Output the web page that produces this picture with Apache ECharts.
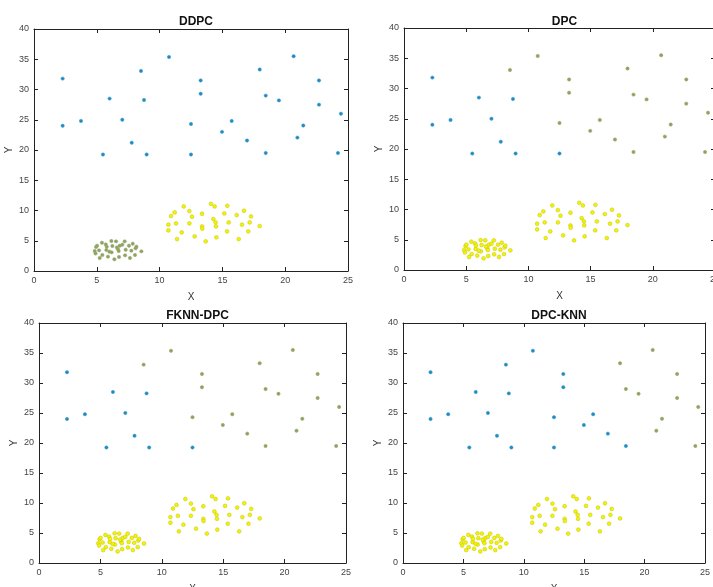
<!DOCTYPE html>
<html>
<head>
<meta charset="utf-8">
<title>DDPC / DPC / FKNN-DPC / DPC-KNN</title>
<script src="https://cdn.jsdelivr.net/npm/echarts@6/dist/echarts.min.js"></script>
<style>
  html, body { margin: 0; background: #fff; }
  #chart { width: 713px; height: 587px; }
</style>
</head>
<body>
<div id="chart"></div>
<script>
// 稀疏点（上方那一片）
const sparsePts = [
  [2.28, 31.8], [2.28, 24.0], [3.74, 24.8], [5.49, 19.25], [6.02, 28.5],
  [7.03, 25.0], [7.78, 21.2], [8.52, 33.06], [8.76, 28.27], [8.97, 19.25],
  [10.75, 35.37], [12.5, 24.3], [12.5, 19.25], [13.27, 31.5], [13.27, 29.3],
  [14.97, 23.0], [15.74, 24.8], [16.96, 21.56], [17.97, 33.3], [18.45, 28.99],
  [18.45, 19.5], [19.5, 28.2], [20.67, 35.5], [20.97, 22.05], [21.44, 24.04],
  [22.69, 31.5], [22.69, 27.5], [24.2, 19.5], [24.44, 26.0]
]

// 左下的小簇
const clusterLow = [
  [4.83, 3.30], [4.94, 3.96], [5.02, 4.18], [5.18, 3.41], [5.23, 2.15],
  [5.41, 4.68], [5.44, 2.64], [5.71, 4.40], [5.76, 3.47], [5.79, 4.02],
  [5.89, 2.37], [6.16, 4.95], [6.18, 3.08], [6.24, 4.13], [6.40, 1.93],
  [6.53, 4.90], [6.69, 3.58], [6.74, 3.30], [6.77, 2.31], [6.82, 4.18],
  [7.03, 4.35], [7.22, 4.90], [7.25, 2.59], [7.30, 3.52], [7.56, 4.18],
  [7.64, 2.15], [7.75, 3.36], [7.86, 4.51], [8.04, 2.64], [8.09, 3.74],
  [8.15, 4.02], [8.55, 3.25], [4.90, 2.90], [6.00, 3.20], [6.60, 3.90]
]

// 中间的大簇
const clusterMid = [
  [10.70, 7.65], [10.70, 6.71], [10.91, 9.08], [11.20, 9.68], [11.31, 7.87],
  [11.39, 5.28], [11.76, 6.38], [11.92, 10.67], [12.37, 9.90], [12.37, 7.87],
  [12.58, 8.97], [12.79, 5.72], [13.38, 9.46], [13.38, 7.37], [13.40, 6.99],
  [13.67, 4.90], [14.09, 11.11], [14.28, 8.58], [14.38, 10.67], [14.46, 8.03],
  [14.49, 7.37], [14.52, 5.56], [15.15, 9.52], [15.37, 6.55], [15.39, 10.78],
  [15.50, 8.03], [16.14, 9.24], [16.30, 5.28], [16.56, 7.65], [16.72, 9.96],
  [17.06, 6.55], [17.17, 8.03], [17.28, 9.02], [17.97, 7.43]
]

const titles = ['DDPC', 'DPC', 'FKNN-DPC', 'DPC-KNN']

// 稀疏点的类别：0 蓝色，1 绿色
const labelsDDPC = [0,0,0,0,0, 0,0,0,0,0, 0,0,0,0,0, 0,0,0,0,0, 0,0,0,0,0, 0,0,0,0]
const labelsDPC = [0,0,0,0,0, 0,0,1,0,0, 1,1,0,1,1, 1,1,1,1,1, 1,1,1,1,1, 1,1,1,1]
const labelsFKNN = [0,0,0,0,0, 0,0,1,0,0, 1,1,0,1,1, 1,1,1,1,1, 1,1,1,1,1, 1,1,1,1]
const labelsDPCKNN = [0,0,0,0,0, 0,0,0,0,0, 0,0,0,0,0, 0,0,0,1,1, 0,1,1,1,1, 1,1,1,1]
// 左下小簇的类别：1 绿色，2 黄色
const lowClass = [1, 2, 2, 2]

const xTicks = [0, 5, 10, 15, 20, 25]
const yTicks = [0, 5, 10, 15, 20, 25, 30, 35, 40]

const COLORS = ['#1a8cc6', '#8ea35e', '#f2f20a']
const BORDERS = ['#4f9cc4', '#9aab74', '#c4c400']

// 右上那块图在截图里被右边裁掉了一点
const grids = [
  { left: 34, top: 29, width: 314, height: 242, outerBoundsMode: 'none' },
  { left: 404, top: 28, width: 311, height: 242, outerBoundsMode: 'none' },
  { left: 39, top: 323, width: 307, height: 240, outerBoundsMode: 'none' },
  { left: 403, top: 323, width: 302, height: 240, outerBoundsMode: 'none' }
]
const allLabels = [labelsDDPC, labelsDPC, labelsFKNN, labelsDPCKNN]

const labelStyle = { color: '#444', fontSize: 9, fontFamily: 'Liberation Sans' }
const lineStyle = { color: '#222', width: 1 }

const xAxis = []
const yAxis = []
const series = []
const title = []

grids.forEach((g, i) => {
  title.push({
    text: titles[i],
    left: g.left + g.width / 2,
    top: i < 2 ? 11 : 305,
    textAlign: 'center',
    textStyle: { fontSize: 12, fontWeight: 'bold', color: '#111', fontFamily: 'Liberation Sans' }
  })
  xAxis.push({
    gridIndex: i, type: 'value', min: xTicks[0], max: xTicks[xTicks.length - 1], interval: 5,
    name: 'X', nameLocation: 'middle', nameGap: 21,
    nameTextStyle: { color: '#333', fontSize: 10, fontFamily: 'Liberation Sans' },
    axisLine: { show: true, onZero: false, lineStyle },
    axisTick: { show: true, inside: true, length: 4, lineStyle },
    axisLabel: Object.assign({ margin: 5 }, labelStyle),
    splitLine: { show: false }
  })
  xAxis.push({
    gridIndex: i, type: 'value', position: 'top', min: 0, max: 25, interval: 5,
    axisLine: { show: true, onZero: false, lineStyle },
    axisTick: { show: true, inside: true, length: 4, lineStyle },
    axisLabel: { show: false },
    splitLine: { show: false }
  })
  yAxis.push({
    gridIndex: i, type: 'value', min: yTicks[0], max: yTicks[yTicks.length - 1], interval: 5,
    name: 'Y', nameLocation: 'middle', nameGap: 20,
    nameTextStyle: { color: '#333', fontSize: 10, fontFamily: 'Liberation Sans' },
    axisLine: { show: true, onZero: false, lineStyle },
    axisTick: { show: true, inside: true, length: 4, lineStyle },
    axisLabel: Object.assign({ margin: 5 }, labelStyle),
    splitLine: { show: false }
  })
  yAxis.push({
    gridIndex: i, type: 'value', position: 'right', min: 0, max: 40, interval: 5,
    axisLine: { show: true, onZero: false, lineStyle },
    axisTick: { show: true, inside: true, length: 4, lineStyle },
    axisLabel: { show: false },
    splitLine: { show: false }
  })

  const groups = [[], [], []]
  sparsePts.forEach((p, k) => groups[allLabels[i][k]].push(p))
  clusterLow.forEach(p => groups[lowClass[i]].push(p))
  clusterMid.forEach(p => groups[2].push(p))

  groups.forEach((data, c) => {
    series.push({
      type: 'scatter',
      xAxisIndex: i * 2,
      yAxisIndex: i * 2,
      data,
      symbol: 'circle',
      symbolSize: c === 2 ? 3.8 : 3.4,
      silent: true,
      itemStyle: { color: COLORS[c], borderColor: BORDERS[c], borderWidth: 0.5, opacity: 1 }
    })
  })
})

const chart = echarts.init(document.getElementById('chart'), null, { renderer: 'canvas' })
chart.setOption({
  backgroundColor: '#fff',
  animation: false,
  title,
  grid: grids,
  xAxis,
  yAxis,
  series
})
</script>
</body>
</html>
